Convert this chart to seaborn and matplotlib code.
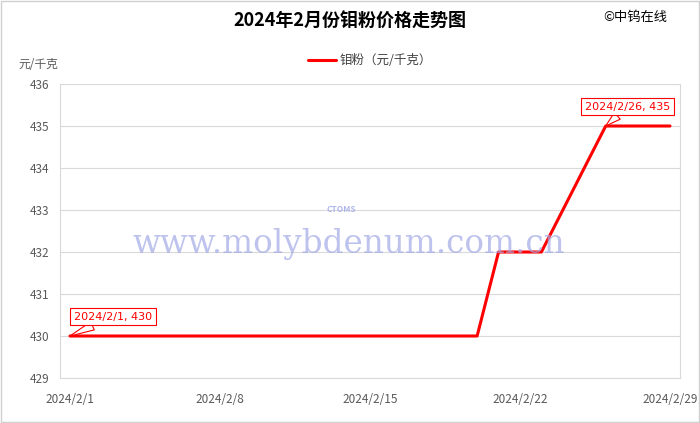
import pandas as pd
import seaborn as sns
import matplotlib.pyplot as plt
from matplotlib.patches import Rectangle

# price turning points
dates = ['2024-02-01', '2024-02-20', '2024-02-21', '2024-02-23', '2024-02-26', '2024-02-29']
prices = [430, 430, 432, 432, 435, 435]
tick_dates = ['2024-02-01', '2024-02-08', '2024-02-15', '2024-02-22', '2024-02-29']
tick_labels = ['2024/2/1', '2024/2/8', '2024/2/15', '2024/2/22', '2024/2/29']
y_ticks = [429, 430, 431, 432, 433, 434, 435, 436]

df = pd.DataFrame({'date': pd.to_datetime(dates), 'price': prices})

sns.set_style('white')
plt.rcParams['font.family'] = ['Noto Sans CJK SC', 'DejaVu Sans']

fig = plt.figure(figsize=(7, 4.23), dpi=100)
ax = fig.add_axes([0.0857, 0.1064, 0.8857, 0.695])

# watermark
fig.text(0.499, 0.422, 'www.molybdenum.com.cn', ha='center', va='center',
         family='DejaVu Serif', fontsize=23.5, color='#a3aae6', alpha=0.7, zorder=0)
fig.text(0.487, 0.505, 'CTOMS', ha='center', va='center', fontsize=6,
         style='italic', weight='bold', color='#9ea6e6', alpha=0.8)

sns.lineplot(data=df, x='date', y='price', ax=ax, color='#ff0000', lw=2.2,
             label='钼粉（元/千克）', zorder=3)

x0 = pd.Timestamp('2024-02-01') - pd.Timedelta(hours=11.2)
x1 = pd.Timestamp('2024-02-29') + pd.Timedelta(hours=11.2)
ax.set_xlim(x0, x1)
ax.set_ylim(429, 436)
ax.set_yticks(y_ticks)
ax.set_xticks(pd.to_datetime(tick_dates))
ax.set_xticklabels(tick_labels)
ax.set_xlabel('')
ax.set_ylabel('')
ax.grid(axis='y', color='#d9d9d9', lw=0.8)
ax.tick_params(axis='both', labelsize=8.5, colors='#595959', length=0, pad=8)
ax.tick_params(axis='x', length=3, color='#d9d9d9')
for s in ax.spines.values():
    s.set_color('#d9d9d9')
    s.set_linewidth(0.8)
ax.spines['top'].set_visible(False)

ax.legend(loc='lower center', bbox_to_anchor=(0.5, 1.02), frameon=False,
          fontsize=9, handlelength=2.2, handletextpad=0.3,
          labelcolor='#404040')

# data callouts
for d, v, off in [(dates[0], prices[0], (31, 14)), (dates[-2], prices[-2], (16, 14))]:
    dt = pd.Timestamp(d)
    ax.annotate(f'{dt.year}/{dt.month}/{dt.day}, {v}', xy=(dt, v),
                xytext=off, textcoords='offset points', ha='center', va='center',
                fontsize=8, color='#ff0000', family='DejaVu Sans',
                bbox=dict(boxstyle='square,pad=0.35', fc='white', ec='#ff0000', lw=0.8),
                arrowprops=dict(arrowstyle='wedge,tail_width=0.8', fc='white',
                                ec='#ff0000', lw=0.8, shrinkA=0, shrinkB=0),
                zorder=5)

fig.text(0.5, 0.95, '2024年2月份钼粉价格走势图', ha='center', va='center',
         fontsize=13, weight='bold', color='#000000')
fig.text(0.953, 0.958, '©中钨在线', ha='right', va='center', fontsize=9.5, color='#000000')
fig.text(0.026, 0.848, '元/千克', ha='left', va='center', fontsize=8.5, color='#595959')

fig.patches.append(Rectangle((0.002, 0.003), 0.996, 0.994, transform=fig.transFigure,
                             fill=False, ec='#d0d0d0', lw=1))

plt.savefig('out.png', dpi=100)
